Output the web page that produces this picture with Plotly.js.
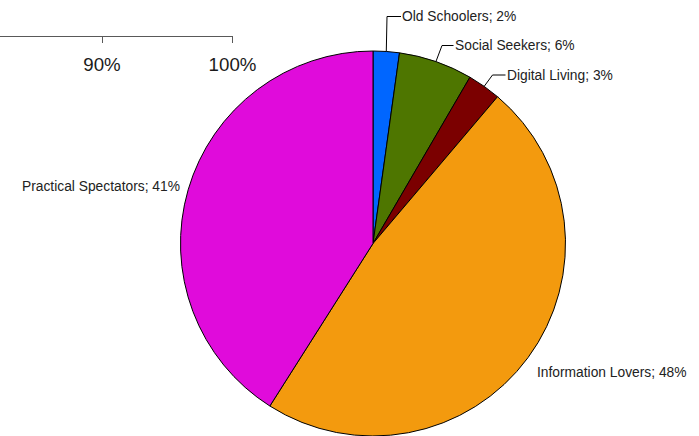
<!DOCTYPE html>
<html>
<head>
<meta charset="utf-8">
<script src="https://cdn.plot.ly/plotly-3.0.1.min.js"></script>
<style>
  html, body { margin: 0; padding: 0; overflow: hidden; background: #fff; }
  #chart { width: 699px; height: 436px; }
</style>
</head>
<body>
<div id="chart"></div>
<script>
// ---- data ----
var categories = ["Old Schoolers", "Social Seekers", "Digital Living", "Information Lovers", "Practical Spectators"];
var shares = [2.2, 6.2, 2.8, 47.8, 41.0];
var sliceColors = ["#0066ff", "#4e7600", "#7b0000", "#f39a0e", "#e00bdb"];
var axisTickValues = [90, 100];
var axisTickLabels = ["90%", "100%"];

// ---- layout constants (pixels) ----
var W = 699, H = 436;
var pieCx = 373, pieR = 192.5;
var pieTop = 51;
var fontFam = "'Liberation Sans', Arial, sans-serif";
var textColor = "#222222";

function px(x) { return x / W; }
function py(y) { return 1 - y / H; }

// label placement: for labels with leader lines, elbow and text start offsets
var labelPlacement = [
  { elbow: [387, 16.5], end: [401, 16.5], text: [401, 16.5], anchor: "left" },
  { elbow: [442, 45.5], end: [453.5, 45.5], text: [453.5, 45.5], anchor: "left" },
  { elbow: [492.5, 75], end: [505.5, 75], text: [505.5, 75], anchor: "left" },
  { text: [535.5, 372.5], anchor: "left" },
  { text: [181, 186.5], anchor: "right" }
];

var total = shares.reduce(function (a, b) { return a + b; }, 0);
var pieCy = pieTop + pieR;

var annotations = [];
var shapes = [];
var cum = 0;
shares.forEach(function (v, i) {
  var mid = (cum + v / 2) / total;
  cum += v;
  var ang = mid * 2 * Math.PI; // clockwise from 12 o'clock
  var ex = pieCx + pieR * Math.sin(ang);
  var ey = pieCy - pieR * Math.cos(ang);
  var lp = labelPlacement[i];
  if (lp.elbow) {
    shapes.push({
      type: "path", xref: "paper", yref: "paper",
      path: "M " + px(ex) + "," + py(ey) + " L " + px(lp.elbow[0]) + "," + py(lp.elbow[1]) +
            " L " + px(lp.end[0]) + "," + py(lp.end[1]),
      line: { color: "#000000", width: 1 }
    });
  }
  annotations.push({
    xref: "paper", yref: "paper",
    x: px(lp.text[0]), y: py(lp.text[1]),
    xanchor: lp.anchor, yanchor: "middle",
    text: categories[i] + "; " + Math.round(v) + "%",
    showarrow: false,
    borderpad: 0,
    font: { family: fontFam, size: 13.8, color: textColor }
  });
});

var pieTrace = {
  type: "pie",
  labels: categories,
  values: shares,
  sort: false,
  direction: "clockwise",
  rotation: 0,
  textinfo: "none",
  hoverinfo: "label+percent",
  marker: { colors: sliceColors, line: { color: "#000000", width: 1 } },
  domain: { x: [px(pieCx - pieR), px(pieCx + pieR)], y: [0, (2 * pieR) / H] },
  showlegend: false
};

var axisTrace = {
  type: "scatter", mode: "markers",
  x: [], y: [], xaxis: "x", yaxis: "y",
  showlegend: false, hoverinfo: "skip"
};

var axisEnd = 232.5, pxPerPct = 13.05;

var layout = {
  width: W, height: H,
  margin: { l: 0, r: 0, t: 0, b: 0, pad: 0 },
  paper_bgcolor: "#ffffff",
  plot_bgcolor: "rgba(0,0,0,0)",
  showlegend: false,
  xaxis: {
    domain: [0, px(axisEnd)],
    range: [100 - axisEnd / pxPerPct, 100],
    showline: true, linecolor: "#595959", linewidth: 1,
    ticks: "outside", ticklen: 6, tickcolor: "#595959", tickwidth: 1,
    tickvals: axisTickValues, ticktext: axisTickLabels,
    ticklabelstandoff: 6,
    showgrid: false, zeroline: false, fixedrange: true,
    tickfont: { family: fontFam, size: 18.7, color: "#1a1a1a" }
  },
  yaxis: {
    domain: [py(36), 1],
    visible: false, showgrid: false, zeroline: false, fixedrange: true
  },
  annotations: annotations,
  shapes: shapes
};

Plotly.newPlot("chart", [pieTrace, axisTrace], layout, { displayModeBar: false, staticPlot: true });
</script>
</body>
</html>
